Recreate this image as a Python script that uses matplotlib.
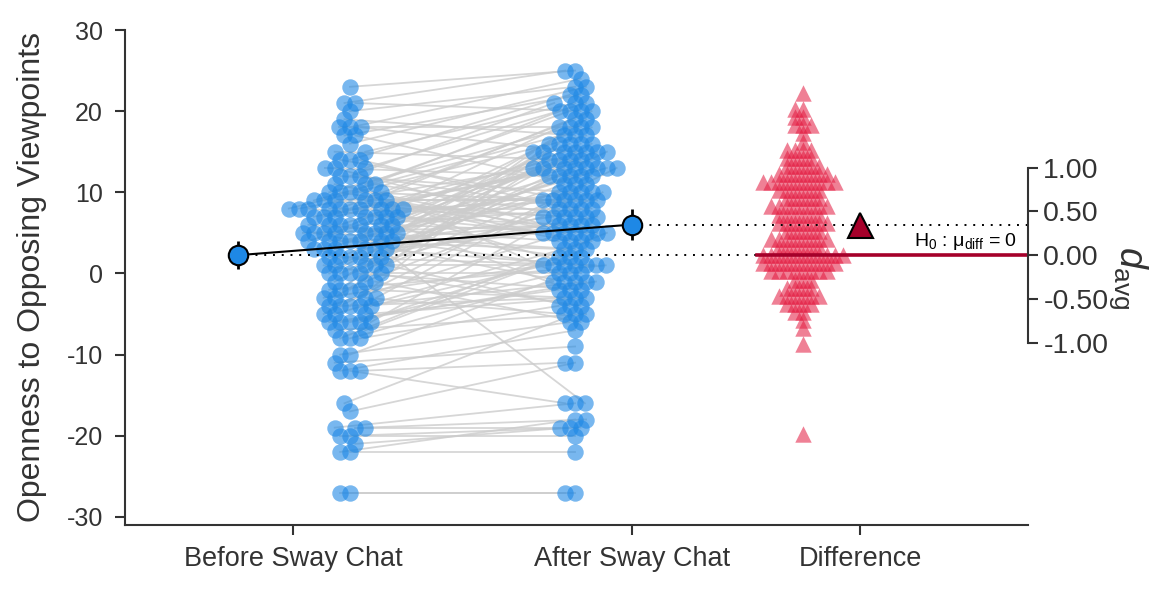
import numpy as np
import matplotlib.pyplot as plt

plt.rcParams['font.family'] = ['Liberation Sans', 'DejaVu Sans']
plt.rcParams['mathtext.fontset'] = 'custom'
plt.rcParams['mathtext.rm'] = 'Liberation Sans'
plt.rcParams['mathtext.it'] = 'Liberation Sans:italic'
plt.rcParams['axes.unicode_minus'] = False

# paired scores, one entry per participant
before = [-27, -27, -22, -22, -21, -20, -20, -19, -19, -19, -17, -16, -12, -12, -12, -11, -10, -10, 6,
          23, 21, 21, 20, 19, 18, 18, 18, 17, 17, 16, 15, 15, 14, 14, 14, 13, 13, 13, 12, 12, 12, 11, 11, 11,
          10, 10, 10, 10, 10, 9, 9, 9, 9, 9, 9, 8, 8, 8, 8, 8, 8, 8, 8, 8, 8, 7, 7, 7, 7, 7, 7, 7,
          6, 6, 6, 6, 6, 6, 5, 5, 5, 5, 5, 5, 5, 5, 4, 4, 4, 4, 4, 4, 4, 3, 3, 3, 3, 3, 3,
          2, 2, 2, 2, 2, 1, 1, 1, 1, 1, 0, 0, 0, 0, 0, -1, -1, -1, -2, -2, -2, -2, -3, -3, -3, -3,
          -4, -4, -4, -4, -4, -5, -5, -5, -6, -6, -6, -6, -6, -7, -7, -8, -8, -8]
after = [-27, -27, -22, -18, -19, -19, -20, -19, -16, -18, -11, -5, -16, -7, -11, -9, 0, -6, -16,
         25, 25, 20, 23, 17, 24, 18, 15, 22, 11, 23, 14, 21, 22, 9, 8, 5, 21, 12, 21, 10, 8, 5, 20, 7,
         20, 5, 9, 18, -1, 9, 4, 9, 7, 4, 18, 20, 19, 13, 7, 1, 8, 5, 14, 9, 17, 14, 10, -2, 15, 6, 13, 17,
         15, 8, 2, 15, 5, 4, 18, 13, 16, 3, 12, -1, 13, 6, 16, 9, 6, 3, 19, 1, 13, 7, 10, 1, 13, 5, -4,
         15, 14, 7, 1, 12, 11, 7, 1, -4, 12, 16, 12, -2, 13, 0, 15, 10, -6, 16, 15, -3, 1, 14, -5, 1, 11,
         16, -3, -1, 6, 2, 4, -3, 13, 0, -1, 3, -2, 10, -5, 2, -1, 5, -4]

group_labels = ['Before Sway Chat', 'After Sway Chat', 'Difference']
y_label = 'Openness to Opposing Viewpoints'

before = np.array(before, dtype=float)
after = np.array(after, dtype=float)
diff = after - before
n = len(before)
t_crit = 1.977

mb, ma, md = before.mean(), after.mean(), diff.mean()
ci_b = t_crit * before.std(ddof=1) / np.sqrt(n)
ci_a = t_crit * after.std(ddof=1) / np.sqrt(n)
ci_d = t_crit * diff.std(ddof=1) / np.sqrt(n)
sd_avg = (before.std(ddof=1) + after.std(ddof=1)) / 2

blue = '#1E88E5'
red = '#E3193F'
dark_red = '#A5002A'
txt = '#333333'

W, H = 1174, 600
xlim = (-0.4956, 2.168)
ylim = (-31, 30)
ax_box = [125 / W, 75 / H, 903 / W, 495 / H]
px_x = ax_box[2] * W / (xlim[1] - xlim[0])
px_y = ax_box[3] * H / (ylim[1] - ylim[0])


def swarm(vals, d):
    # simple beeswarm, offsets in pixels
    yp = np.asarray(vals) * px_y
    xs = np.zeros(len(yp))
    placed = []
    for i in np.argsort(yp, kind='stable'):
        y = yp[i]
        near = [(xj, yj) for xj, yj in placed if abs(yj - y) < d]
        cands = [0.0]
        for xj, yj in near:
            dx = np.sqrt(d * d - (yj - y) ** 2)
            cands += [xj - dx, xj + dx]
        cands.sort(key=abs)
        for c in cands:
            if all((c - xj) ** 2 + (y - yj) ** 2 >= d * d - 1e-6 for xj, yj in near):
                xs[i] = c
                break
        placed.append((xs[i], y))
    return xs / px_x


xb = 0.168 + swarm(before, 9.8)
xa = 0.832 + swarm(after, 9.8)
xd = 1.504 + swarm(diff, 8)

fig = plt.figure(figsize=(W / 100, H / 100), dpi=100)
ax = fig.add_axes(ax_box)

for i in range(n):
    ax.plot([xb[i], xa[i]], [before[i], after[i]], color='#cccccc', lw=1.3, alpha=0.8, zorder=1)

ax.scatter(xb, before, s=140, color=blue, alpha=0.6, linewidths=0, zorder=2)
ax.scatter(xa, after, s=140, color=blue, alpha=0.6, linewidths=0, zorder=2)
ax.scatter(xd, mb + diff, s=140, marker='^', color=red, alpha=0.55, linewidths=0, zorder=2)

ax.plot([-0.162, 1.37], [mb, mb], color='black', lw=1.4, ls=(0, (1, 3.5)), zorder=3)
ax.plot([1.0, xlim[1]], [ma, ma], color='black', lw=1.4, ls=(0, (1, 3.5)), zorder=3)
ax.plot([1.37, xlim[1]], [mb, mb], color=dark_red, lw=2.6, zorder=3)
ax.text(2.136, mb + 0.4, r'H$_0$ : μ$_{\mathregular{diff}}$ = 0', ha='right', va='bottom',
        fontsize=14, color='black', zorder=4)

ax.plot([-0.162, 1.0], [mb, ma], color='black', lw=1.5, zorder=4)
ax.errorbar([-0.162], [mb], yerr=[ci_b], fmt='o', ms=14, mfc=blue, mec='black', mew=1.5,
            ecolor='black', elinewidth=2, zorder=5)
ax.errorbar([1.0], [ma], yerr=[ci_a], fmt='o', ms=14, mfc=blue, mec='black', mew=1.5,
            ecolor='black', elinewidth=2, zorder=5)
ax.errorbar([1.673], [ma], yerr=[ci_d], fmt='^', ms=18, mfc=dark_red, mec='black', mew=1.5,
            ecolor='black', elinewidth=2, zorder=5)

ax.set_xlim(xlim)
ax.set_ylim(ylim)
ax.set_yticks([-30, -20, -10, 0, 10, 20, 30])
ax.set_xticks([0, 1, 1.673])
ax.set_xticklabels(group_labels)
ax.set_ylabel(y_label, fontsize=23, color=txt, labelpad=14)
ax.tick_params(axis='y', colors=txt, labelsize=18, width=1.5, length=7, pad=9)
ax.tick_params(axis='x', colors=txt, labelsize=19.5, width=1.5, length=7, pad=8)
for s in ['top', 'right']:
    ax.spines[s].set_visible(False)
for s in ['left', 'bottom']:
    ax.spines[s].set_color(txt)
    ax.spines[s].set_linewidth(1.5)

ax2 = ax.twinx()
ax2.set_ylim((ylim[0] - mb) / sd_avg, (ylim[1] - mb) / sd_avg)
ax2.set_yticks([-1, -0.5, 0, 0.5, 1])
ax2.set_yticklabels(['%.2f' % v for v in [-1, -0.5, 0, 0.5, 1]])
ax2.spines['right'].set_bounds(-1, 1)
ax2.spines['right'].set_color(txt)
ax2.spines['right'].set_linewidth(1.5)
for s in ['top', 'left', 'bottom']:
    ax2.spines[s].set_visible(False)
ax2.tick_params(axis='y', colors=txt, labelsize=20.5, width=1.5, length=7, pad=4)
ax2.set_ylabel(r'$d_{\mathregular{avg}}$', rotation=270, fontsize=27, color=txt, labelpad=30)

fig.savefig('out.png', dpi=100)
